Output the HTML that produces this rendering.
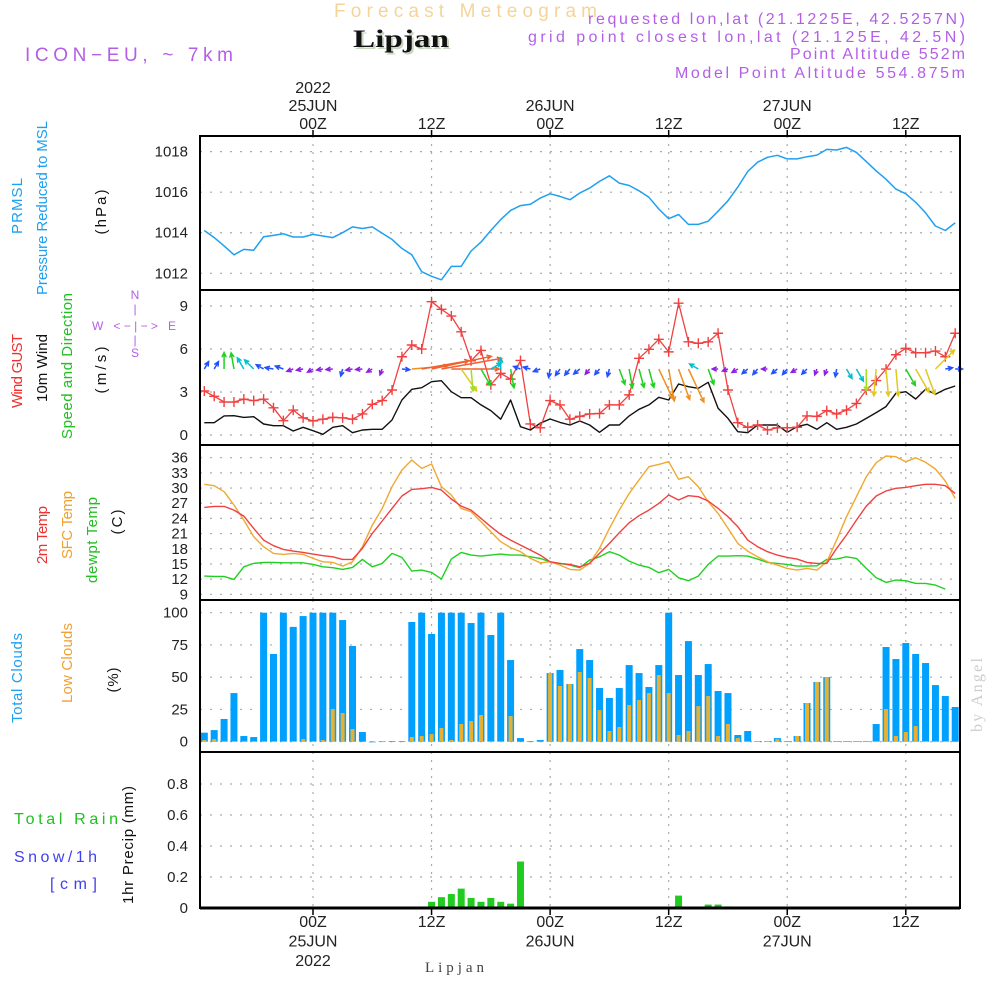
<!DOCTYPE html>
<html><head><meta charset="utf-8"><title>Lipjan Meteogram</title>
<style>
html,body{margin:0;padding:0;background:#fff;}
svg{display:block;font-family:"Liberation Sans",sans-serif;}
</style></head>
<body>
<svg id="chart" width="1000" height="1000" viewBox="0 0 1000 1000" xmlns="http://www.w3.org/2000/svg">
<rect width="1000" height="1000" fill="#fff"/>
<g id="grid"></g>
<g id="marks"></g>
<g id="frame" fill="none" stroke="#000" stroke-width="2">
<rect x="200" y="136" width="760" height="772"/>
<line x1="200" y1="290" x2="960" y2="290"/>
<line x1="200" y1="445" x2="960" y2="445"/>
<line x1="200" y1="600" x2="960" y2="600"/>
<line x1="200" y1="752" x2="960" y2="752"/>
<line x1="200" y1="908" x2="960" y2="908" stroke-width="3"/>
</g>
<g id="labels" fill="#222" font-size="15"></g>

<text x="334" y="17" font-size="19" fill="#f5d49a" textLength="263" lengthAdjust="spacing">Forecast Meteogram</text>
<text x="355" y="49" font-family="'Liberation Serif',serif" font-weight="bold" font-size="25" fill="#c8d6c0" textLength="96" lengthAdjust="spacingAndGlyphs">Lipjan</text>
<text x="353" y="47" font-family="'Liberation Serif',serif" font-weight="bold" font-size="25" fill="#111" textLength="96" lengthAdjust="spacingAndGlyphs">Lipjan</text>
<text x="25" y="61" font-size="19" fill="#b45ee8" textLength="208" lengthAdjust="spacing">ICON−EU, ~ 7km</text>
<g font-size="16" fill="#b45ee8">
<text x="588" y="24" textLength="377" lengthAdjust="spacing">requested lon,lat (21.1225E, 42.5257N)</text>
<text x="528" y="42" textLength="437" lengthAdjust="spacing">grid point closest lon,lat (21.125E, 42.5N)</text>
<text x="790" y="59" textLength="175" lengthAdjust="spacing">Point Altitude 552m</text>
<text x="675" y="78" textLength="290" lengthAdjust="spacing">Model Point Altitude 554.875m</text>
</g>

<g font-size="15" text-anchor="middle">
<text transform="translate(22,206) rotate(-90)" fill="#1ea0f0" textLength="56" lengthAdjust="spacing">PRMSL</text>
<text transform="translate(47,208) rotate(-90)" fill="#1ea0f0" textLength="174" lengthAdjust="spacing">Pressure Reduced to MSL</text>
<text transform="translate(106,212) rotate(-90)" fill="#111" textLength="45" lengthAdjust="spacing">(hPa)</text>
<text transform="translate(22,371) rotate(-90)" fill="#f03030" textLength="74" lengthAdjust="spacing">Wind GUST</text>
<text transform="translate(47,368) rotate(-90)" fill="#111" textLength="68" lengthAdjust="spacing">10m Wind</text>
<text transform="translate(72,366) rotate(-90)" fill="#20c020" textLength="146" lengthAdjust="spacing">Speed and Direction</text>
<text transform="translate(106,370) rotate(-90)" fill="#111" textLength="47" lengthAdjust="spacing">(m/s)</text>
<text transform="translate(47,535) rotate(-90)" fill="#f03030" textLength="58" lengthAdjust="spacing">2m Temp</text>
<text transform="translate(72,525) rotate(-90)" fill="#f0a030" textLength="68" lengthAdjust="spacing">SFC Temp</text>
<text transform="translate(97,540) rotate(-90)" fill="#20c020" textLength="86" lengthAdjust="spacing">dewpt Temp</text>
<text transform="translate(122,522) rotate(-90)" fill="#111" textLength="25" lengthAdjust="spacing">(C)</text>
<text transform="translate(22,678) rotate(-90)" fill="#1ea0f0" textLength="90" lengthAdjust="spacing">Total Clouds</text>
<text transform="translate(72,663) rotate(-90)" fill="#f0a030" textLength="80" lengthAdjust="spacing">Low Clouds</text>
<text transform="translate(118,680) rotate(-90)" fill="#111" textLength="25" lengthAdjust="spacing">(%)</text>
<text transform="translate(133,845) rotate(-90)" fill="#111" textLength="118" lengthAdjust="spacing">1hr Precip (mm)</text>
<text transform="translate(982,695) rotate(-90)" fill="#cccccc" font-family="'Liberation Serif',serif" font-size="16" textLength="74" lengthAdjust="spacing">by Angel</text>
</g>
<g font-size="16">
<text x="14" y="824" fill="#20c020" textLength="104" lengthAdjust="spacing">Total  Rain</text>
<text x="14" y="862" fill="#4040f0" textLength="83" lengthAdjust="spacing">Snow/1h</text>
<text x="50" y="889" fill="#4040f0" textLength="47" lengthAdjust="spacing">[cm]</text>
</g>
<g fill="#b45ee8" font-size="12" text-anchor="middle">
<text x="135" y="299">N</text>
<text x="135" y="313">|</text>
<text x="134" y="330" textLength="84" lengthAdjust="spacing">W  &lt;−|−&gt;  E</text>
<text x="135" y="344">|</text>
<text x="135" y="357">S</text>
</g>
<text x="425" y="972" font-family="'Liberation Serif',serif" font-size="15" fill="#444" textLength="59" lengthAdjust="spacing">Lipjan</text>
</svg>
<script>
const startHour = -11;
const pressure = [1014.11,1013.76,1013.35,1012.91,1013.18,1013.14,1013.8,1013.87,1013.95,1013.79,1013.79,1013.92,1013.84,1013.76,1014,1014.29,1014.21,1014.29,1013.97,1013.67,1013.23,1012.91,1012.08,1011.85,1011.68,1012.34,1012.34,1013.1,1013.54,1014.11,1014.65,1015.1,1015.34,1015.4,1015.71,1015.92,1015.79,1015.63,1015.96,1016.2,1016.53,1016.81,1016.45,1016.33,1016.07,1015.75,1015.17,1014.69,1014.9,1014.41,1014.41,1014.57,1015.06,1015.58,1016.25,1017.02,1017.48,1017.72,1017.82,1017.64,1017.64,1017.75,1017.83,1018.11,1018.08,1018.21,1017.96,1017.51,1017.05,1016.64,1016.15,1015.92,1015.5,1014.98,1014.33,1014.11,1014.49];
const gust = [3.07,2.7,2.3,2.3,2.5,2.4,2.5,1.9,1.0,1.74,1.2,0.98,1.1,1.23,1.2,1.1,1.47,2.14,2.4,3.14,5.46,6.28,6.0,9.3,8.77,8.3,7.2,5.18,5.9,3.5,4.3,3.9,5.2,0.77,0.5,2.4,2.1,1.1,1.3,1.47,1.5,2.1,2.1,2.8,5.35,5.98,6.68,5.8,9.2,6.5,6.4,6.5,7.1,3.14,0.86,0.54,0.7,0.35,0.5,0.5,0.54,1.33,1.3,1.7,1.47,1.74,2.2,3.14,3.8,4.6,5.6,6.05,5.74,5.74,5.86,5.46,7.1];
const wind = [0.86,0.86,1.33,1.35,1.23,1.28,0.77,0.65,0.65,0.28,0.54,0.3,0.05,0.54,0.65,0.16,0.35,0.4,0.4,1.05,2.44,3.19,3.3,3.72,3.79,3.02,2.6,2.6,2.1,1.7,1.1,2.44,0.58,0.35,0.82,1.12,0.88,0.7,0.98,0.7,0.19,0.7,0.7,1.33,1.79,2.1,2.63,2.44,3.56,3.37,3.26,3.68,1.86,1.16,0.23,0.16,0.7,0.7,0.7,0.19,0.58,0.75,0.4,0.86,0.4,0.54,0.77,1.16,1.56,1.98,2.91,3.02,2.51,3.19,2.84,3.19,3.42];
const arrowDir = [30,30,0,350,330,315,300,280,290,250,260,240,260,265,195,260,265,240,200,90,95,85,80,78,80,90,145,175,150,60,0,170,290,285,250,190,215,220,230,220,220,195,160,170,165,165,155,170,160,155,300,160,270,250,240,230,220,270,230,220,240,225,200,200,190,150,150,180,185,175,175,150,150,160,45,80,90];
const arrowMag = [1,1,1.8,1.8,1.5,1.5,1,1,1,0.7,0.7,0.6,0.6,0.7,0.8,0.7,0.7,0.6,0.6,0,0.9,3.0,3.5,4.0,4.0,3.5,2.5,2.2,2.0,1.4,1.3,2.0,0.8,0.8,0.8,1.0,0.9,0.9,0.9,0.7,0.8,0.9,1.8,2.0,2.0,2.0,2.8,2.8,2.8,3.0,1.2,1.8,0.5,0.5,0.7,0.8,0.8,0.5,0.8,0.8,0.7,0.8,0.6,0.6,0.9,1.3,1.6,2.2,2.5,2.5,2.5,2.0,2.5,2.5,2.5,0.8,0.8];
const temp2m = [26.18,26.38,26.38,25.65,24.46,22.02,19.72,18.6,17.87,17.54,17.28,16.95,16.62,16.42,15.89,15.89,18.07,21.04,23.48,25.98,28.42,29.74,29.87,30.13,29.6,27.83,26.44,25.65,24.0,22.35,20.84,19.72,18.73,17.74,16.75,15.43,15.1,14.9,14.44,15.1,17.08,19.06,21.17,23.15,24.53,25.65,26.97,28.62,27.63,28.49,28.29,27.43,25.98,24.33,22.35,19.72,18.4,17.41,16.75,16.29,15.96,15.3,15.1,15.1,18.07,20.71,23.67,26.44,28.42,29.41,29.94,30.13,30.46,30.73,30.73,30.46,28.95];
const tempSfc = [30.73,30.46,29.28,26.64,23.67,20.38,18.4,17.08,16.88,17.08,16.88,16.09,15.43,15.3,14.58,15.43,18.4,22.68,25.98,30.26,33.56,35.54,33.89,34.75,30.26,28.62,25.98,25.32,23.34,21.37,19.39,18.2,17.41,16.09,15.23,15.43,14.77,13.92,13.78,15.1,18.07,22.02,25.65,28.95,31.58,34.22,34.68,35.21,31.72,32.24,30.26,27.3,24.99,22.02,19.06,17.54,16.42,15.43,14.77,14.11,13.78,14.11,13.78,15.43,19.72,24.33,28.29,32.24,35.01,36.33,36.2,35.21,36,35.08,33.76,31.39,27.96];
const dewpt = [12.6,12.53,12.53,11.94,14.44,15.1,15.3,15.3,15.23,15.23,15.23,14.9,14.44,14.25,13.92,14.31,15.89,14.44,15.1,17.08,16.29,13.59,13.78,13.32,12.0,15.96,17.28,16.75,16.55,16.75,16.95,16.75,16.75,16.42,16.09,15.43,15.1,14.77,14.25,15.76,16.42,17.41,16.75,15.56,14.77,14.31,13.26,13.92,12.27,11.68,12.6,14.9,16.55,16.55,16.62,16.55,15.96,15.3,15.1,14.9,14.58,14.58,14.64,15.89,15.96,16.42,16.09,14.11,12.27,11.35,11.81,11.68,11.15,11.15,10.82,10.03];
const totalClouds = [7,9,17.6,37.7,4.4,3.6,100,68,100,89,97.4,100,100,100,94.3,74.2,7.5,0,0.5,0.5,0.5,92.8,100,83.5,100,100,100,92,100,82.7,100,63.3,2.8,0.5,1.3,53.2,55.6,44.7,71.8,63.3,41.6,33.9,41.6,59.4,53.2,42.4,59.4,100,51.7,78,51.7,60.2,39.3,37.7,5.2,8.3,0.5,0.5,2.8,0.5,4.4,30,46.3,50.1,0.5,0.5,0.5,0.5,13.7,73.4,64.1,76.5,68,61,43.9,35.4,26.9];
const lowClouds = [1.3,2,0.5,0.5,0.5,0.5,0.5,0.5,0.5,0.5,2,0.5,1.3,25.3,22.2,9.8,0,0.5,0.5,0,0,3.6,4.4,5.9,10.6,1.3,13.7,16,20.7,0.5,0.5,19.9,0,0,0,53.2,43.2,44.7,54,49.4,24.5,8.3,11.4,28.4,32.3,37.7,51.7,37.7,5.2,8.3,27.6,35.4,4.4,13.7,2.8,0.5,0.5,0.5,2,0,4.4,30,46.3,50.1,0.3,0.3,0.3,0.3,0.5,25.3,4.4,7.5,12.1,0.5,0.5,0.5,0];
const precip = [0,0,0,0,0,0,0,0,0,0,0,0,0,0,0,0,0,0,0,0,0,0,0,0.04,0.07,0.09,0.125,0.065,0.04,0.065,0.04,0.028,0.3,0,0,0,0,0,0,0,0,0,0,0,0,0,0,0,0.08,0,0,0.022,0.022,0.01,0,0,0,0,0,0,0,0,0,0,0,0,0,0,0,0,0,0,0,0,0,0,0];
const pressureTicks = [1012,1014,1016,1018];
const windTicks = [0,3,6,9];
const tempTicks = [9,12,15,18,21,24,27,30,33,36];
const cloudTicks = [0,25,50,75,100];
const precipTicks = [0,0.2,0.4,0.6,0.8];
const timeTickHours = [0,12,24,36,48,60];
const topTimeLabels = [["2022","25JUN","00Z"],["12Z"],["26JUN","00Z"],["12Z"],["27JUN","00Z"],["12Z"]];
const bottomTimeLabels = [["00Z","25JUN","2022"],["12Z"],["00Z","26JUN"],["12Z"],["00Z","27JUN"],["12Z"]];

const NS = "http://www.w3.org/2000/svg";
const gGrid = document.getElementById('grid');
const gMarks = document.getElementById('marks');
const gLab = document.getElementById('labels');
function mk(tag, attrs, parent){const e=document.createElementNS(NS,tag);for(const k in attrs)e.setAttribute(k,attrs[k]);parent.appendChild(e);return e;}
const xH = h => 313 + h*9.88;
const xI = i => xH(startHour + i);
const yP = v => 273.3 - (v-1012)*20.28;
const yW = v => 435 - v*14.33;
const yT = v => 594.3 - (v-9)*5.06;
const yC = v => 741.7 - v*1.29;
const yR = v => 908 - v*155;
const panels = [[136,290],[290,445],[445,600],[600,752],[752,908]];

panels.forEach(p=>{
  timeTickHours.forEach(h=>{
    const l=mk('line',{x1:xH(h),x2:xH(h),y1:p[0],y2:p[1],stroke:'#aaa','stroke-width':1.2,'stroke-dasharray':'2,6'},gGrid);
    
    
  });
});
function hTicks(ticks, yf, fmt){
  ticks.forEach(t=>{
    const y=yf(t);
    const l=mk('line',{x1:200,x2:960,y1:y,y2:y,stroke:'#aaa','stroke-width':1.2,'stroke-dasharray':'2,8'},gGrid);
    
    
    const tx=mk('text',{x:188,y:y+5,'text-anchor':'end'},gLab);
    tx.textContent=fmt(t);
    
    
  });
}
hTicks(pressureTicks,yP,String);
hTicks(windTicks,yW,String);
hTicks(tempTicks,yT,String);
hTicks(cloudTicks,yC,String);
hTicks(precipTicks,yR,t=>t===0?'0':t.toFixed(1));

timeTickHours.forEach((h,k)=>{
  const x=xH(h);
  mk('line',{x1:x,x2:x,y1:130,y2:136,stroke:'#000','stroke-width':1.5},gGrid);
  mk('line',{x1:x,x2:x,y1:908,y2:915,stroke:'#000','stroke-width':1.5},gGrid);
  const top=topTimeLabels[k];
  top.forEach((s,j)=>{
    const t=mk('text',{x:x,y:129-(top.length-1-j)*18,'text-anchor':'middle','font-size':16},gLab);
    t.textContent=s;
    
    
  });
  bottomTimeLabels[k].forEach((s,j)=>{
    const t=mk('text',{x:x,y:927+j*19.5,'text-anchor':'middle','font-size':16},gLab);
    t.textContent=s;
    
    
  });
});

function line(vals, yf, color, w, name){
  const pts=vals.map((v,i)=>xI(i).toFixed(1)+','+yf(v).toFixed(1)).join(' ');
  const pl=mk('polyline',{points:pts,fill:'none',stroke:color,'stroke-width':w,'stroke-linejoin':'round'},gMarks);
  
  
}
totalClouds.forEach((v,i)=>{
  const x=xI(i);
  const r=mk('rect',{x:x-3.5,y:yC(v),width:7,height:Math.max(0.6,yC(0)-yC(v)),fill:'#00a0ff'},gMarks);
  
  
});
lowClouds.forEach((v,i)=>{
  const x=xI(i);
  const r=mk('rect',{x:x-2,y:yC(v),width:4,height:Math.max(0.4,yC(0)-yC(v)),fill:'#e8b030'},gMarks);
  
  
});
precip.forEach((v,i)=>{
  if(v<=0) return;
  const x=xI(i);
  const r=mk('rect',{x:x-3.5,y:yR(v),width:7,height:yR(0)-yR(v),fill:'#20cc20'},gMarks);
  
  
});
line(pressure,yP,'#1ea0f0',1.5,'pressure-line');
line(wind,yW,'#111',1.4,'mean-wind-line');
line(gust,yW,'#f04040',1.3,'gust-line');
gust.forEach((v,i)=>{
  const x=xI(i),y=yW(v);
  const p=mk('path',{d:`M${x-5},${y}H${x+5}M${x},${y-5}V${y+5}`,stroke:'#f04040','stroke-width':1.4},gMarks);
  
  
});
line(dewpt,yT,'#20d020',1.4,'dewpoint-line');
line(tempSfc,yT,'#f0a830',1.4,'sfc-temp-line');
line(temp2m,yT,'#f04040',1.4,'temp-2m-line');
function arrowColor(m){
  if(m<0.75) return '#9020e0';
  if(m<1.1) return '#2050ff';
  if(m<1.7) return '#00c0d0';
  if(m<2.1) return '#20d020';
  if(m<2.4) return '#a0e020';
  if(m<2.6) return '#e0c820';
  if(m<3.2) return '#f09020';
  return '#f06030';
}
arrowDir.forEach((d,i)=>{
  const m=arrowMag[i];
  if(m<=0) return;
  const len=5+m*m*3.5;
  const a=d*Math.PI/180;
  const x0=xI(i), y0=369;
  const x1=x0+Math.sin(a)*len, y1=y0-Math.cos(a)*len;
  const ha=0.45, hl=5;
  const bx=-Math.sin(a), by=Math.cos(a);
  const lx=x1+hl*(bx*Math.cos(ha)-by*Math.sin(ha)), ly=y1+hl*(bx*Math.sin(ha)+by*Math.cos(ha));
  const rx=x1+hl*(bx*Math.cos(-ha)-by*Math.sin(-ha)), ry=y1+hl*(bx*Math.sin(-ha)+by*Math.cos(-ha));
  const p=mk('path',{d:`M${x0},${y0}L${x1},${y1}M${lx},${ly}L${x1},${y1}L${rx},${ry}`,stroke:arrowColor(m),'stroke-width':1.5,fill:'none'},gMarks);
  
  
});
</script>
</body></html>
